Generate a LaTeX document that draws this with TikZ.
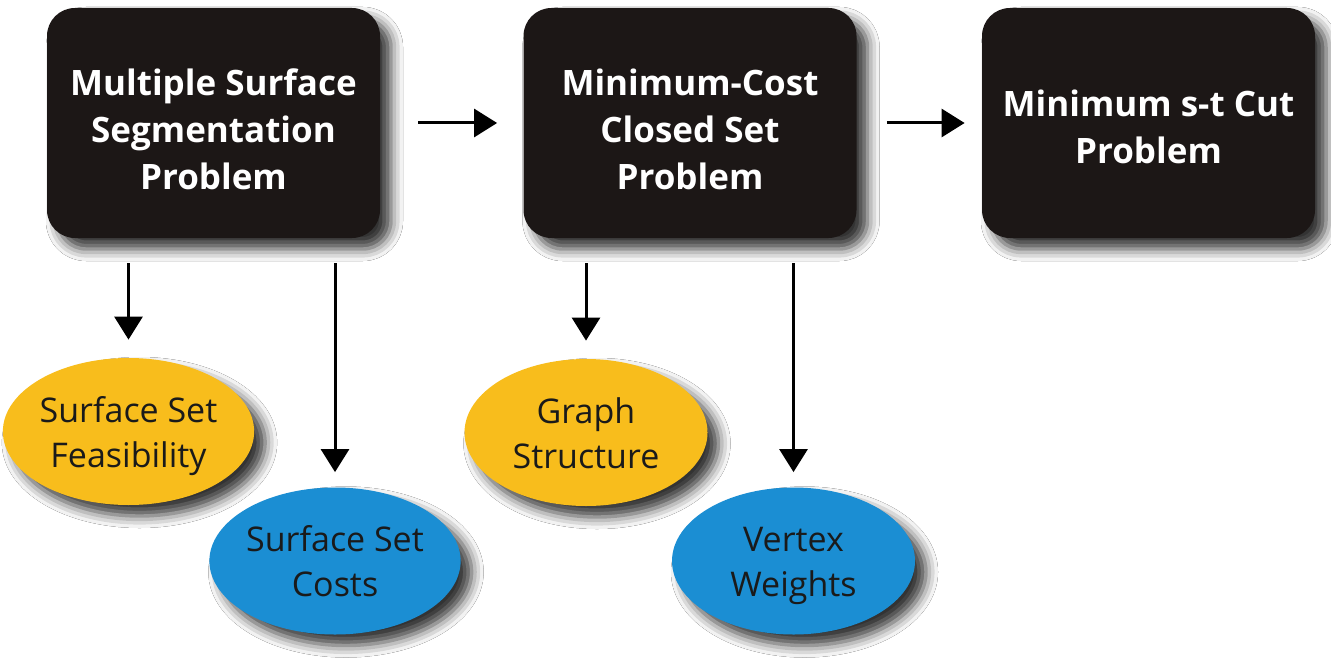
\documentclass[tikz,border=0pt]{standalone}
\usepackage{fontspec}
\setmainfont{Open Sans}
\usetikzlibrary{arrows.meta,shapes.geometric,shadows.blur}

\definecolor{boxblack}{HTML}{1C1716}
\definecolor{goldfill}{HTML}{F8BD1C}
\definecolor{skyfill}{HTML}{1B8ED3}
\definecolor{inktext}{HTML}{1A1A1A}

% lower the lines of a node a little without changing its size
\newcommand{\droplines}[2]{\raisebox{-#1}[\height][\depth]{\begin{tabular}{@{}c@{}}#2\end{tabular}}}

\tikzset{
  softshadow/.style={blur shadow={shadow xshift=5.5pt, shadow yshift=-5.5pt,
      shadow blur radius=6pt, shadow opacity=80}},
  problembox/.style={rectangle, rounded corners=14pt, fill=boxblack,
      text=white, font=\fontsize{17.5}{23.5}\selectfont\bfseries,
      minimum width=166.5pt, minimum height=115pt,
      inner sep=0pt, softshadow},
  aspect/.style={ellipse, minimum width=121.5pt, minimum height=73.5pt,
      inner sep=0pt, text=inktext,
      font=\fontsize{17}{22.5}\selectfont, softshadow},
  goldaspect/.style={aspect, fill=goldfill},
  skyaspect/.style={aspect, fill=skyfill},
  flow/.style={draw=black, line width=1.5pt,
      -{Triangle[length=11.5pt, width=14pt]}},
}

\begin{document}
\begin{tikzpicture}
  \useasboundingbox[fill=white] (0pt,0pt) rectangle (665.5pt,-334pt);

  % problem chain
  \node[problembox] (mss) at (106.75pt,-61.5pt) {\droplines{5pt}{Multiple Surface\\Segmentation\\Problem}};
  \node[problembox] (mcc) at (345pt,-61.5pt) {\droplines{5pt}{Minimum-Cost\\Closed Set\\Problem}};
  \node[problembox] (mst) at (574.25pt,-61.5pt) {\droplines{4pt}{Minimum s-t Cut\\Problem}};

  % ingredients of each reduction
  \node[goldaspect] (ssf) at (64.25pt,-215.75pt) {\droplines{2pt}{Surface Set\\Feasibility}};
  \node[skyaspect]  (ssc) at (167.5pt,-280.5pt) {\droplines{2pt}{Surface Set\\Costs}};
  \node[goldaspect] (gst) at (293pt,-216.25pt) {\droplines{2pt}{Graph\\Structure}};
  \node[skyaspect]  (vwt) at (396.75pt,-280.5pt) {\droplines{2pt}{Vertex\\Weights}};

  % horizontal reductions
  \draw[flow, shorten <=19pt, shorten >=13pt] (mss.east) -- (mcc.west);
  \draw[flow, shorten <=15pt, shorten >=8.5pt] (mcc.east) -- (mst.west);

  % vertical arrows down to the ingredients
  \draw[flow, shorten <=12.5pt, shorten >=9pt] (ssf.north |- mss.south) -- (ssf.north);
  \draw[flow, shorten <=12.5pt, shorten >=7.5pt] (ssc.north |- mss.south) -- (ssc.north);
  \draw[flow, shorten <=12.5pt, shorten >=9pt] (gst.north |- mcc.south) -- (gst.north);
  \draw[flow, shorten <=12.5pt, shorten >=7.5pt] (vwt.north |- mcc.south) -- (vwt.north);
\end{tikzpicture}
\end{document}
